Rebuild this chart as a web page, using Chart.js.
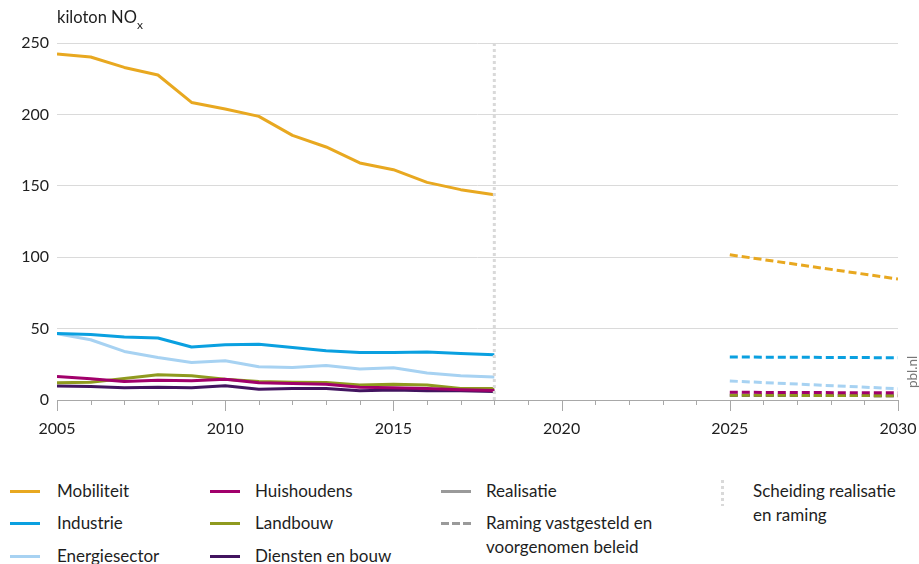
<!DOCTYPE html>
<html>
<head>
<meta charset="utf-8">
<script src="https://cdn.jsdelivr.net/npm/chart.js@4/dist/chart.umd.min.js"></script>
<style>
  html, body { margin: 0; padding: 0; background: #fff; width: 919px; height: 564px; overflow: hidden; font-family: Lato, "Open Sans", sans-serif; color: #1e1e1e; }
  #wrap { position: relative; width: 919px; height: 564px; }
  #c { position: absolute; left: 0; top: 0; }
  .title { position: absolute; left: 57px; top: 7px; font-size: 16.5px; }
  .title sub { font-size: 12px; vertical-align: -6px; }
  .pbl { position: absolute; left: 892px; top: 364px; font-size: 13.5px; color: #777; transform: rotate(-90deg); transform-origin: center; width: 40px; text-align: center; }
  .leg { position: absolute; font-size: 17px; line-height: 24px; }
  .sw { position: absolute; height: 3px; width: 30px; }
  .swd { position: absolute; height: 3px; width: 30px; background: repeating-linear-gradient(90deg, #9a9a9a 0 8px, transparent 8px 11px); }
  .sep { position: absolute; width: 3px; height: 26px; background: repeating-linear-gradient(180deg, #d9d9d9 0 3px, transparent 3px 6px); }
</style>
</head>
<body>
<div id="wrap">
  <canvas id="c" width="919" height="445"></canvas>
  <div class="title">kiloton NO<sub>x</sub></div>
  <div class="pbl">pbl.nl</div>
  <div id="legend"></div>
</div>
<script>
// ---- data ----
const years = [2005, 2006, 2007, 2008, 2009, 2010, 2011, 2012, 2013, 2014, 2015, 2016, 2017, 2018];
const projYears = [2025, 2030];

const mobiliteit      = [242.3, 240.2, 232.9, 227.6, 208.4, 203.8, 198.6, 185.3, 177.2, 166.0, 161.3, 152.4, 147.3, 143.8];
const industrie       = [46.6, 45.9, 44.1, 43.4, 37.1, 38.7, 39.0, 36.8, 34.5, 33.3, 33.3, 33.6, 32.6, 31.7];
const energiesector   = [46.4, 42.2, 34.0, 29.8, 26.3, 27.5, 23.3, 22.8, 24.2, 21.7, 22.6, 18.9, 17.0, 16.1];
const huishoudens     = [16.5, 14.8, 13.0, 13.9, 13.5, 14.6, 12.0, 11.5, 11.0, 9.0, 8.6, 8.0, 7.2, 6.6];
const landbouw        = [12.0, 12.5, 15.0, 17.7, 17.0, 14.5, 13.0, 12.5, 12.3, 10.5, 11.0, 10.5, 8.0, 8.0];
const dienstenEnBouw  = [9.8, 9.5, 8.5, 9.0, 8.5, 10.0, 7.5, 8.0, 8.0, 6.5, 7.0, 6.5, 6.5, 6.0];

const mobiliteitRaming     = [101.7, 84.7];
const industrieRaming      = [30.1, 29.6];
const energiesectorRaming  = [13.3, 7.9];
const huishoudensRaming    = [5.4, 5.0];
const landbouwRaming       = [3.4, 3.0];
const dienstenRaming       = [3.4, 3.0];

const separatorYear = 2018;
const yTicks = [0, 50, 100, 150, 200, 250];
const xTicks = [2005, 2010, 2015, 2020, 2025, 2030];

const seriesNames = ['Mobiliteit', 'Industrie', 'Energiesector', 'Huishoudens', 'Landbouw', 'Diensten en bouw'];
const colors = ['#e8a820', '#0aa0e0', '#a7d2f2', '#a1006b', '#8f9a1f', '#42145f'];

// ---- build datasets ----
const pts = (xs, ys) => xs.map((x, i) => ({ x, y: ys[i] }));
const realData = [mobiliteit, industrie, energiesector, huishoudens, landbouw, dienstenEnBouw];
const projData = [mobiliteitRaming, industrieRaming, energiesectorRaming, huishoudensRaming, landbouwRaming, dienstenRaming];

const datasets = [{
  data: [{ x: separatorYear, y: yTicks[0] }, { x: separatorYear, y: yTicks[yTicks.length - 1] }],
  borderColor: '#d9d9d9', borderWidth: 3, borderDash: [3, 3], borderCapStyle: 'butt',
  pointRadius: 0
}];
realData.forEach((d, i) => datasets.push({
  label: seriesNames[i], data: pts(years, d), borderColor: colors[i], borderWidth: 3,
  pointRadius: 0, tension: 0, borderJoinStyle: 'round'
}));
projData.forEach((d, i) => datasets.push({
  label: seriesNames[i] + ' raming', data: pts(projYears, d), borderColor: colors[i], borderWidth: 3,
  borderDash: [8, 4], borderCapStyle: 'butt', pointRadius: 0, tension: 0
}));

const tickMarks = {
  id: 'tickMarks',
  afterDraw(chart) {
    const xs = chart.scales.x, ctx = chart.ctx, bottom = chart.chartArea.bottom;
    ctx.save();
    ctx.strokeStyle = '#a8a8a8';
    ctx.lineWidth = 1;
    for (let y = xs.min; y <= xs.max; y++) {
      const px = Math.round(xs.getPixelForValue(y)) + 0.5;
      const len = (y % 5 === 0) ? 11 : 5;
      ctx.beginPath();
      ctx.moveTo(px, bottom);
      ctx.lineTo(px, bottom + len);
      ctx.stroke();
    }
    ctx.restore();
  }
};

new Chart(document.getElementById('c'), {
  type: 'line',
  data: { datasets },
  options: {
    responsive: false,
    animation: false,
    layout: { padding: { top: 43, right: 21, left: 0, bottom: 0 } },
    plugins: { legend: { display: false }, tooltip: { enabled: false } },
    scales: {
      x: {
        type: 'linear', min: 2005, max: 2030,
        afterBuildTicks: (s) => { s.ticks = xTicks.map(v => ({ value: v })); },
        ticks: { color: '#1e1e1e', font: { family: 'Lato', size: 16 }, padding: 19, maxRotation: 0,
                 callback: (v) => String(v) },
        grid: { display: false, drawTicks: false },
        border: { display: true, color: '#a8a8a8', width: 1 },
        afterFit: (s) => { s.height = 45; s.paddingRight = 0; s.paddingLeft = 0; }
      },
      y: {
        min: 0, max: 250,
        afterBuildTicks: (s) => { s.ticks = yTicks.map(v => ({ value: v })); },
        ticks: { color: '#1e1e1e', font: { family: 'Lato', size: 16 }, padding: 8 },
        grid: { color: '#dadada', lineWidth: 1, drawTicks: false },
        border: { display: false },
        afterFit: (s) => { s.width = 57; }
      }
    }
  },
  plugins: [tickMarks]
});

// ---- legend (HTML) ----
const legend = document.getElementById('legend');
const cols = [[10, 57], [210, 255], [441, 486]];
const rowY = [491, 523, 556];
seriesNames.forEach((name, i) => {
  const col = cols[Math.floor(i / 3)], y = rowY[i % 3];
  const sw = document.createElement('div');
  sw.className = 'sw'; sw.style.left = col[0] + 'px'; sw.style.top = (y - 1) + 'px'; sw.style.background = colors[i];
  legend.appendChild(sw);
  const t = document.createElement('div');
  t.className = 'leg'; t.style.left = col[1] + 'px'; t.style.top = (y - 12) + 'px'; t.textContent = name;
  legend.appendChild(t);
});
const addItem = (html, swClass, x, tx, y, swColor) => {
  const sw = document.createElement('div');
  sw.className = swClass; sw.style.left = x + 'px'; sw.style.top = (y - 1) + 'px';
  if (swColor) sw.style.background = swColor;
  legend.appendChild(sw);
  const t = document.createElement('div');
  t.className = 'leg'; t.style.left = tx + 'px'; t.style.top = (y - 12) + 'px'; t.innerHTML = html;
  legend.appendChild(t);
};
addItem('Realisatie', 'sw', 441, 486, rowY[0], '#9a9a9a');
addItem('Raming vastgesteld en<br>voorgenomen beleid', 'swd', 441, 486, rowY[1]);
const sep = document.createElement('div');
sep.className = 'sep'; sep.style.left = '721px'; sep.style.top = '480px';
legend.appendChild(sep);
const st = document.createElement('div');
st.className = 'leg'; st.style.left = '753px'; st.style.top = (rowY[0] - 12) + 'px';
st.innerHTML = 'Scheiding realisatie<br>en raming';
legend.appendChild(st);
</script>
</body>
</html>
